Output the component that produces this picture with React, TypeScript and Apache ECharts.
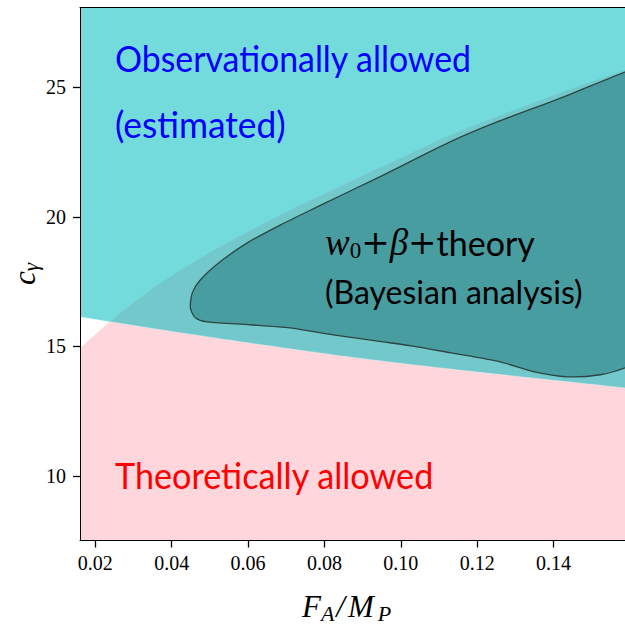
import React, { useEffect, useRef } from "react";
import * as echarts from "echarts";

// Tick values
const xTicks = [0.02, 0.04, 0.06, 0.08, 0.1, 0.12, 0.14];
const yTicks = [10, 15, 20, 25];

// Theoretically allowed region: upper boundary (region below)
const theoryX = [0.016, 0.0239, 0.0336, 0.0423, 0.0509, 0.0598, 0.0684, 0.0781, 0.0954, 0.1129, 0.1252, 0.1425, 0.1587, 0.162];
const theoryY = [14.93, 15.97, 17.09, 17.94, 18.7, 19.41, 20.07, 20.76, 21.96, 23.16, 23.87, 24.84, 25.67, 25.82];

// Observationally allowed region: lower boundary (region above)
const obsX = [0.016, 0.0344, 0.0606, 0.0868, 0.1129, 0.1391, 0.1587, 0.162];
const obsY = [16.13, 15.7, 15.12, 14.58, 14.12, 13.7, 13.39, 13.33];

// Bayesian posterior contour (closed; the right edge lies outside the frame)
const contourX = [0.163, 0.1587, 0.1425, 0.1252, 0.1129, 0.0954, 0.0781, 0.0684, 0.0598, 0.0527, 0.0475, 0.0454, 0.0449, 0.0462, 0.0493, 0.0606, 0.071, 0.0823, 0.0954, 0.1043, 0.1129, 0.126, 0.1347, 0.1436, 0.1522, 0.1587, 0.163];
const contourY = [25.75, 25.59, 24.62, 23.66, 22.89, 21.61, 20.38, 19.68, 18.99, 18.26, 17.56, 17.06, 16.48, 16.1, 15.94, 15.83, 15.71, 15.44, 15.17, 14.98, 14.75, 14.4, 14.02, 13.82, 13.9, 14.17, 14.5];

const SANS = "Lato";
const SERIF = "Liberation Serif";

function txt(text: string, x: number, y: number, size: number, color: string, family: string, opts: any = {}) {
  return {
    type: "text",
    x,
    y,
    z: 100,
    scaleX: opts.scaleX ?? 1,
    rotation: opts.rotation ?? 0,
    style: {
      text,
      fill: color,
      fontSize: size,
      fontFamily: family,
      fontStyle: opts.italic ? "italic" : "normal",
      align: opts.align ?? "left",
      textAlign: opts.align ?? "left",
      verticalAlign: "middle",
      textVerticalAlign: "middle",
      rich: opts.rich,
    },
  };
}

export default function App() {
  const ref = useRef<HTMLDivElement>(null);
  useEffect(() => {
    if (!ref.current) return;
    const chart = echarts.init(ref.current, null, { renderer: "svg" });
    const option: any = {
      animation: false,
      backgroundColor: "#fff",
      grid: { left: 80, right: 0, top: 7.5, bottom: 84.5, containLabel: false },
      xAxis: [
        {
          type: "value",
          min: 0.016,
          max: 0.1587,
          z: 10,
          axisLine: { show: true, onZero: false, lineStyle: { color: "#000", width: 1 } },
          axisTick: { show: true, length: 7, customValues: xTicks, lineStyle: { color: "#000", width: 1.3 } },
          axisLabel: {
            customValues: xTicks,
            formatter: (v: number) => v.toFixed(2),
            fontFamily: SERIF,
            fontSize: 20,
            color: "#000",
            margin: 12,
          },
          splitLine: { show: false },
        },
        {
          type: "value",
          position: "top",
          min: 0.016,
          max: 0.1587,
          z: 10,
          axisLine: { show: true, onZero: false, lineStyle: { color: "#000", width: 1 } },
          axisTick: { show: false },
          axisLabel: { show: false },
          splitLine: { show: false },
        },
      ],
      yAxis: {
        type: "value",
        min: 7.5,
        max: 28.08,
        z: 10,
        axisLine: { show: true, onZero: false, lineStyle: { color: "#000", width: 1 } },
        axisTick: { show: true, length: 7, customValues: yTicks, lineStyle: { color: "#000", width: 1.3 } },
        axisLabel: {
          customValues: yTicks,
          fontFamily: SERIF,
          fontSize: 20,
          color: "#000",
          margin: 14,
        },
        splitLine: { show: false },
      },
      series: [
        {
          type: "line",
          data: theoryX.map((x, i) => [x, theoryY[i]]),
          smooth: 0.25,
          symbol: "none",
          lineStyle: { color: "rgba(255,255,255,0.45)", width: 0.8 },
          areaStyle: { color: "#FFD6DC", opacity: 1, origin: "start" },
          z: 2,
        },
        {
          type: "line",
          data: obsX.map((x, i) => [x, obsY[i]]),
          smooth: 0.25,
          symbol: "none",
          lineStyle: { color: "rgba(255,255,255,0.45)", width: 0.8 },
          areaStyle: { color: "rgba(0,190,190,0.55)", opacity: 1, origin: "end" },
          z: 3,
        },
        {
          type: "custom",
          clip: true,
          z: 4,
          data: contourX.map((x, i) => [x, contourY[i]]),
          encode: { x: 0, y: 1 },
          renderItem: (params: any, api: any) => {
            if (params.dataIndex !== 0) return null;
            const pts = contourX.map((x, i) => api.coord([x, contourY[i]]));
            return {
              type: "polygon",
              shape: { points: pts, smooth: 0.25 },
              style: { fill: "rgba(0,85,87,0.37)", stroke: "#2b4545", lineWidth: 1.3 },
            };
          },
        },
      ],
      graphic: [
        txt("Observationally allowed", 115, 58, 36, "#0000ff", SANS, { scaleX: 0.94 }),
        txt("(estimated)", 115, 124, 36, "#0000ff", SANS, { scaleX: 0.98 }),
        txt("Theoretically allowed", 115, 475, 36, "#ff0000", SANS, { scaleX: 0.95 }),
        txt("{w|w}{sub|0}{p|+}{b|β}{p|+}{t|theory}", 325, 242, 33, "#000", SANS, {
          rich: {
            w: { fontFamily: SERIF, fontStyle: "italic", fontSize: 37, lineHeight: 40, fill: "#000" },
            sub: { fontFamily: SERIF, fontSize: 23, lineHeight: 18, verticalAlign: "bottom", fill: "#000" },
            p: { fontFamily: "DejaVu Serif", fontSize: 34, lineHeight: 40, fill: "#000" },
            b: { fontFamily: SERIF, fontStyle: "italic", fontSize: 37, lineHeight: 40, fill: "#000" },
            t: { fontFamily: SANS, fontSize: 34, lineHeight: 40, fill: "#000" },
          },
        }),
        txt("(Bayesian analysis)", 325, 291, 32, "#000", SANS),
        txt("{i|F}{s|A}{sl|/}{m|M}{q|P}", 302, 606, 31, "#000", SERIF, {
          rich: {
            i: { fontFamily: SERIF, fontStyle: "italic", fontSize: 31, lineHeight: 36, fill: "#000" },
            sl: { fontFamily: SERIF, fontStyle: "italic", fontSize: 31, lineHeight: 36, padding: [0, 0, 0, 2], fill: "#000" },
            m: { fontFamily: SERIF, fontStyle: "italic", fontSize: 31, lineHeight: 36, padding: [0, 0, 0, 3], fill: "#000" },
            s: { fontFamily: SERIF, fontStyle: "italic", fontSize: 22, lineHeight: 19, verticalAlign: "bottom", fill: "#000" },
            q: { fontFamily: SERIF, fontStyle: "italic", fontSize: 22, lineHeight: 19, verticalAlign: "bottom", padding: [0, 0, 0, 4], fill: "#000" },
          },
        }),
        txt("{i|c}{s|γ}", 24, 274, 30, "#000", SERIF, {
          rotation: Math.PI / 2,
          align: "center",
          rich: {
            i: { fontFamily: SERIF, fontStyle: "italic", fontSize: 31, lineHeight: 34, fill: "#000" },
            s: { fontFamily: SERIF, fontStyle: "italic", fontSize: 21, lineHeight: 18, verticalAlign: "bottom", fill: "#000" },
          },
        }),
      ],
    };
    chart.setOption(option);
    return () => chart.dispose();
  }, []);
  return <div ref={ref} style={{ position: "fixed", left: 0, top: 0, width: 625, height: 625 }} />;
}
